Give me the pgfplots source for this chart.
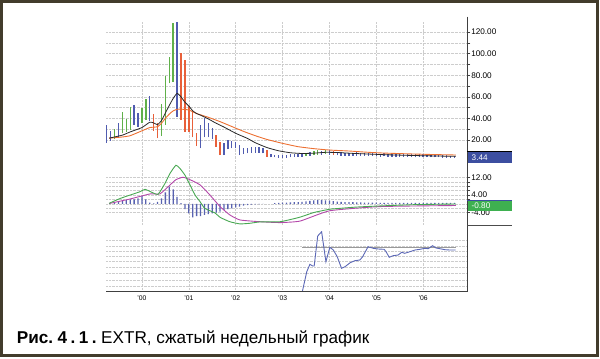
\documentclass[border=0pt]{standalone}
\usepackage{fontspec}
\setmainfont{Liberation Sans}
\usepackage{pgfplots}
\usepackage{pgfplotstable}
\pgfplotsset{compat=1.18}

\definecolor{framec}{RGB}{66,60,44}
\definecolor{gbar}{RGB}{96,176,74}
\definecolor{rbar}{RGB}{232,96,58}
\definecolor{bbar}{RGB}{80,92,176}
\definecolor{maorange}{RGB}{236,112,50}
\definecolor{mablack}{RGB}{40,40,40}
\definecolor{macdg}{RGB}{72,168,82}
\definecolor{sigm}{RGB}{180,72,170}
\definecolor{histc}{RGB}{88,98,176}
\definecolor{indc}{RGB}{92,104,182}
\definecolor{boxblue}{RGB}{60,78,160}
\definecolor{boxgreen}{RGB}{62,176,80}
\definecolor{gridc}{RGB}{205,205,205}

% monthly OHLC ranges, x = months since Jan 2000
\pgfplotstableread{
m lo hi
-7 20.6 29.9
-5 26.2 45.9
-4 27.7 39.2
-3 29.3 50.8
0 35.5 49.4
1 38.5 57.7
5 23.7 53.3
6 33.9 79.3
7 72.5 96.6
8 74.0 128.6
42 5.0 8.0
44 6.0 9.5
45 6.5 10.5
47 7.0 11.0
}\greenbars

\pgfplotstableread{
m lo hi
3 28.6 43.8
4 21.6 36.0
10 38.5 100.3
11 27.7 94.1
12 27.7 51.5
13 22.5 47.8
14 14.4 26.8
19 13.8 24.6
20 6.1 18.4
32 4.5 10.7
49 6.0 9.5
}\redbars

\pgfplotstableread{
m lo hi
-9 17.5 33.9
-8 19.4 28.6
-6 23.1 36.0
-2 33.9 52.7
-1 32.3 44.7
2 37.9 61.0
9 41.6 129.5
15 12.3 33.9
16 22.5 40.1
17 22.5 35.5
18 20.6 31.4
21 6.1 17.5
22 11.4 20.0
23 12.3 19.4
24 12.3 18.4
25 6.1 15.4
26 7.0 12.3
27 7.7 12.3
28 8.2 13.2
29 8.2 13.2
30 8.2 13.8
31 7.7 12.3
33 4.0 7.0
34 3.8 6.5
35 3.6 6.2
36 3.5 6.0
37 3.7 6.3
38 4.0 6.8
39 4.2 7.0
40 4.4 7.2
41 4.6 7.5
43 5.5 8.5
46 6.5 10.0
48 6.5 10.5
50 5.8 9.0
51 5.5 8.5
52 5.2 8.2
53 5.0 8.0
54 5.2 8.2
55 5.4 8.5
56 5.3 8.4
57 5.2 8.2
58 5.0 8.0
59 5.0 7.8
60 4.8 7.5
61 4.6 7.3
62 4.8 7.5
63 4.5 7.2
64 4.3 7.0
65 4.2 6.8
66 4.4 7.0
67 4.5 7.2
68 4.3 7.0
69 4.2 6.8
70 4.0 6.6
71 4.1 6.8
72 4.3 7.0
73 4.2 6.8
74 4.0 6.6
75 3.9 6.5
76 3.8 6.3
77 3.6 6.0
78 3.5 5.8
79 3.4 5.6
80 3.3 5.5
}\bluebars

\pgfplotstableread{
m v
-8.4 21.7
-5 24.5
-3 27.5
0 31.5
2 36.5
3 35.8
4 34.2
5 38
6 45
7 52
8 58.5
9 63.2
10 60
11 55
12 51.5
13 47
14 44.5
15 43
17 39.5
19 35.5
21 32
24 26.2
27 21.5
29 17.5
32 13
35 10
38 8.2
41 7.5
44 7.8
47 8.6
50 8.4
54 7.6
58 7.0
62 6.4
66 6.0
70 5.6
74 5.3
78 5.0
80.4 4.9
}\maone

\pgfplotstableread{
m v
-8.4 21.7
-5 22.8
-3 24.0
0 28.5
2 31.5
4 32.3
5 35.5
6 40.1
7 44
8 47
9 48.4
10 48.6
11 48.2
12 47.8
14 44.5
17 41.0
20 37.0
23 32.5
26 28.0
29 24.0
32 20.5
36 16.9
40 13.8
44 12.0
48 10.7
53 9.8
58 8.6
62 7.9
68 7.2
74 6.6
80.4 6.1
}\matwo

\pgfplotstableread{
m v
-8.4 0.2
-5.6 2.4
-3.0 4.0
-0.5 5.5
0.8 6.6
2.1 5.6
4.1 4.3
5.9 9.3
7.2 13.9
8.7 17.6
9.7 16.2
11.0 13.1
12.3 8.6
13.6 4.0
14.9 0.9
16.1 -2.1
18.7 -4.2
20.0 -6.2
22.5 -8.2
25.1 -9.2
27.7 -8.9
30.2 -8.3
35.4 -8.2
40.5 -6.1
44.0 -4.0
48.1 -2.5
50.7 -2.1
55.0 -1.5
60.9 -1.0
70.0 -0.4
80.4 -0.1
}\macd

\pgfplotstableread{
m v
-8.4 0.1
-3.0 2.2
2.1 4.5
4.6 4.5
7.2 8.6
8.7 11.0
10.5 12.1
12.3 11.0
14.9 8.6
17.4 4.0
20.0 -1.3
22.5 -5.1
25.1 -7.4
30.2 -8.2
35.4 -8.6
40.5 -7.9
48.1 -3.2
60.9 -1.3
80.4 -0.8
}\signal

\pgfplotstableread{
m v
-7 0.5
-6 0.9
-5 1.4
-4 1.7
-3 2.0
-2 2.0
-1 2.5
0 3.5
1 2.0
2 0.5
3 0.2
4 0.9
5 2.5
6 5.2
7 7.8
8 6.6
9 3.2
10 0.3
11 -2.5
12 -4.4
13 -6.2
14 -5.7
15 -5.6
16 -5.1
17 -4.7
18 -4.4
19 -4.1
20 -3.6
21 -2.8
22 -2.5
23 -2.1
24 -1.6
25 -1.3
26 -0.9
27 -0.6
28 -0.4
29 -0.3
30 -0.2
31 -0.1
34 0.3
35 0.4
36 0.5
37 0.5
38 0.6
39 0.7
40 0.8
41 0.9
42 1.1
43 1.3
44 1.5
45 1.7
46 1.7
47 1.6
48 1.4
49 1.2
50 1.0
51 0.9
52 0.8
53 0.7
54 0.7
55 0.6
56 0.6
57 0.5
58 0.5
59 0.5
60 0.5
61 0.4
62 0.4
63 0.4
64 0.4
65 0.4
66 0.4
67 0.4
68 0.4
69 0.4
70 0.4
71 0.4
72 0.4
73 0.4
74 0.4
75 0.4
76 0.4
77 0.4
78 0.4
79 0.4
80 0.4
}\hist

\pgfplotstableread{
m v
41.1 0
42.2 19.3
43.0 26.7
43.7 25
44.1 25
45.0 55
46.0 59.3
47.1 29.3
48.1 43.7
49.0 41
50.0 34.3
51.1 22.7
52.0 24.3
53.3 28.3
54.5 30.3
55.8 31
56.5 34.3
57.9 44.3
59.2 42.7
60.5 42
62.0 41.7
62.5 39.3
63.3 33.7
64.3 35.3
65.6 36
66.5 38.7
67.3 37.7
68.6 39.3
69.9 41
71.2 41.7
72.4 42.7
73.3 42.3
74.4 45.3
75.3 43
76.3 42.3
77.6 41.3
78.8 41
80.3 41
}\indic

\pgfplotsset{
  panel/.style={
    scale only axis, width=361.3bp, xmin=-9.2, xmax=83.3,
    axis line style={draw=none},
    xtick={0,12,...,72}, xticklabels={},
    every x tick/.append style={draw=none},
    grid=both,
    major grid style={gridc, densely dotted, line width=0.5bp},
    minor grid style={gridc, densely dotted, line width=0.5bp},
    ytick pos=right, yticklabel pos=right, tick align=outside,
    major tick length=3bp, minor tick length=3bp,
    every tick/.style={draw=black!75, line width=0.5bp},
    yticklabel style={font=\fontsize{8.2}{9}\selectfont, anchor=west, inner sep=0.8bp,
      /pgf/number format/fixed, /pgf/number format/fixed zerofill,
      /pgf/number format/precision=2, /pgf/number format/assume math mode=true},
  },
  ohlc/.style={color=#1, draw=none, no markers,
    error bars/.cd, y dir=plus, y explicit, error mark=none,
    error bar style={draw=#1, solid, line width=1.4bp}},
}

\begin{document}
\begin{tikzpicture}[x=1bp,y=1bp]
\useasboundingbox (0,0) rectangle (600,358);

% price panel
\begin{axis}[panel, at={(106bp,196.4bp)}, anchor=south west, height=140.4bp,
  ymin=0, ymax=130, ytick={20,40,...,120}, minor y tick num=1]
\addplot[ohlc=gbar] table[x=m, y=lo, y error expr=\thisrow{hi}-\thisrow{lo}] {\greenbars};
\addplot[ohlc=rbar] table[x=m, y=lo, y error expr=\thisrow{hi}-\thisrow{lo}] {\redbars};
\addplot[ohlc=bbar] table[x=m, y=lo, y error expr=\thisrow{hi}-\thisrow{lo}] {\bluebars};
\addplot[maorange, line width=0.9bp, smooth, tension=0.3] table[x=m, y=v] {\matwo};
\addplot[mablack, line width=0.8bp, smooth, tension=0.3] table[x=m, y=v] {\maone};
\end{axis}

% MACD panel
\begin{axis}[panel, at={(106bp,133.45bp)}, anchor=south west, height=60.2bp,
  ymin=-9.5, ymax=18, ytick={-4,4,12}, minor y tick num=3]
\addplot[ybar, bar width=1.3bp, bar shift=0pt, fill=histc, draw=none] table[x=m, y=v] {\hist};
\addplot[sigm, line width=0.9bp, smooth, tension=0.3] table[x=m, y=v] {\signal};
\addplot[macdg, line width=0.9bp, smooth, tension=0.3] table[x=m, y=v] {\macd};
\end{axis}

% indicator panel
\begin{axis}[panel, at={(106bp,67bp)}, anchor=south west, height=60bp,
  ymin=0, ymax=60, ytick={5,11,17.5,24,30,34.5,39.5,45,50.5}, yticklabels={},
  major tick length=0pt, minor tick length=0pt,
  xticklabels={'00,'01,'02,'03,'04,'05,'06},
  xticklabel pos=bottom,
  xticklabel style={font=\fontsize{6.8}{8}\selectfont, inner sep=0pt, yshift=-4.5bp}]
\addplot[gray!80, line width=0.7bp] coordinates {(41.1,43.7) (80.3,43.7)};
\addplot[indc, line width=0.9bp] table[x=m, y=v] {\indic};
\end{axis}

% axis lines
\draw[black!75, line width=0.8bp] (467.3,341.3) -- (467.3,67) -- (106,67);
\draw[black!70, line width=0.8bp] (467.3,133) -- (511.7,133);

% last value boxes
\draw[black, line width=1bp] (467.3,206.2) -- (511.7,206.2);
\fill[boxblue] (467.7,205.7) rectangle (511.7,195.5);
\node[anchor=west, inner sep=0, text=white, font=\fontsize{8.2}{9}\selectfont] at (471.5,200.4) {3.44};
\draw[boxblue, line width=1bp] (467.3,157.7) -- (511.7,157.7);
\fill[boxgreen] (467.7,157.2) rectangle (511.7,147.3);
\node[anchor=west, inner sep=0, text=white, font=\fontsize{8.2}{9}\selectfont] at (471.5,152.1) {-0.80};

% caption
\node[anchor=base west, inner sep=0, font=\fontsize{17.2}{20}\selectfont] at (16.7,14.7)
  {\textbf{Рис.\hspace{4.5bp}4\kern3.5bp.\kern3.5bp1\kern3.5bp.}\hspace{4.5bp}EXTR, сжатый недельный график};

% outer frame
\draw[framec, line width=2.7bp] (1.3,2.2) rectangle (597.5,356.8);
\end{tikzpicture}
\end{document}
